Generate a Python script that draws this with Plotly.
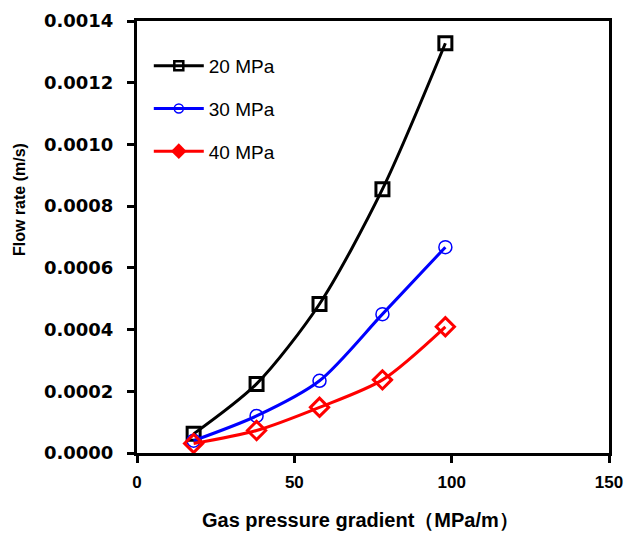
import plotly.graph_objects as go

x_vals = [18, 38, 58, 78, 98]
y_20 = [0.000062, 0.000224, 0.000483, 0.000855, 0.001328]
y_30 = [0.000040, 0.000120, 0.000234, 0.000450, 0.000667]
y_40 = [0.000031, 0.000073, 0.000148, 0.000237, 0.000409]
names = ["20 MPa", "30 MPa", "40 MPa"]
x_ticks = [0, 50, 100, 150]
y_ticks = [0, 0.0002, 0.0004, 0.0006, 0.0008, 0.0010, 0.0012, 0.0014]
y_ticklabels = ["0.0000", "0.0002", "0.0004", "0.0006", "0.0008", "0.0010", "0.0012", "0.0014"]

colors = ["black", "#0000ff", "#ff0000"]
series = [y_20, y_30, y_40]
symbols = ["square-open", "circle-open", "diamond-open"]
sizes = [13, 13, 14]
mwidths = [3, 1.5, 3]
leg_symbols = ["square-open", "circle-open", "diamond"]
leg_sizes = [9, 9, 12]
leg_mwidths = [2.5, 1.5, 0]

fig = go.Figure()
for i in range(3):
    fig.add_trace(go.Scatter(x=x_vals, y=series[i], name=names[i], mode="lines+markers",
                             showlegend=False,
                             line=dict(color=colors[i], width=3, shape="spline", smoothing=0.8),
                             marker=dict(symbol=symbols[i], size=sizes[i], color=colors[i],
                                         line=dict(width=mwidths[i], color=colors[i]))))
for i in range(3):
    fig.add_trace(go.Scatter(x=[None], y=[None], name=names[i], mode="lines+markers",
                             legendgroup="g%d" % i,
                             line=dict(color=colors[i], width=3),
                             marker=dict(symbol=leg_symbols[i], size=leg_sizes[i], color=colors[i],
                                         line=dict(width=leg_mwidths[i], color=colors[i]))))

fig.update_layout(
    width=628, height=533,
    margin=dict(l=137, r=19, t=21, b=80),
    plot_bgcolor="white", paper_bgcolor="white",
    font=dict(family="Liberation Sans, Arial", color="black"),
    legend=dict(x=0.025, y=0.94, xanchor="left", yanchor="top",
                font=dict(size=19, family="Liberation Sans, Arial"),
                bgcolor="rgba(0,0,0,0)", itemwidth=50, tracegroupgap=15),
    showlegend=True,
    annotations=[
        dict(text="Flow rate (m/s)", xref="paper", yref="paper",
             x=-(137 - 19) / 472, y=(453 - 200) / 432, textangle=-90, showarrow=False,
             xanchor="center", yanchor="middle",
             font=dict(size=16, color="black", family="Liberation Sans, Arial", weight="bold")),
        dict(text="Gas pressure gradient（MPa/m）", xref="paper", yref="paper",
             x=(360 - 137) / 472, y=-(520 - 453) / 432, showarrow=False,
             xanchor="center", yanchor="middle",
             font=dict(size=20, color="black", family="Liberation Sans, Arial", weight="bold")),
    ],
)
fig.update_xaxes(range=[0, 150], tickvals=x_ticks, showgrid=False, zeroline=False,
                 automargin=False,
                 showline=True, linecolor="black", linewidth=3, mirror=True,
                 ticks="outside", ticklen=7, tickwidth=2.5, tickcolor="black",
                 ticklabelstandoff=5,
                 tickfont=dict(size=17, family="Liberation Sans, Arial", weight="bold"))
fig.update_yaxes(range=[0, 0.0014], tickvals=y_ticks, ticktext=y_ticklabels,
                 showgrid=False, zeroline=False, automargin=False,
                 showline=True, linecolor="black", linewidth=3, mirror=True,
                 ticks="outside", ticklen=7, tickwidth=2.5, tickcolor="black",
                 ticklabelstandoff=10,
                 tickfont=dict(size=18, family="DejaVu Sans", weight="bold"))

fig.write_html("out.html")
